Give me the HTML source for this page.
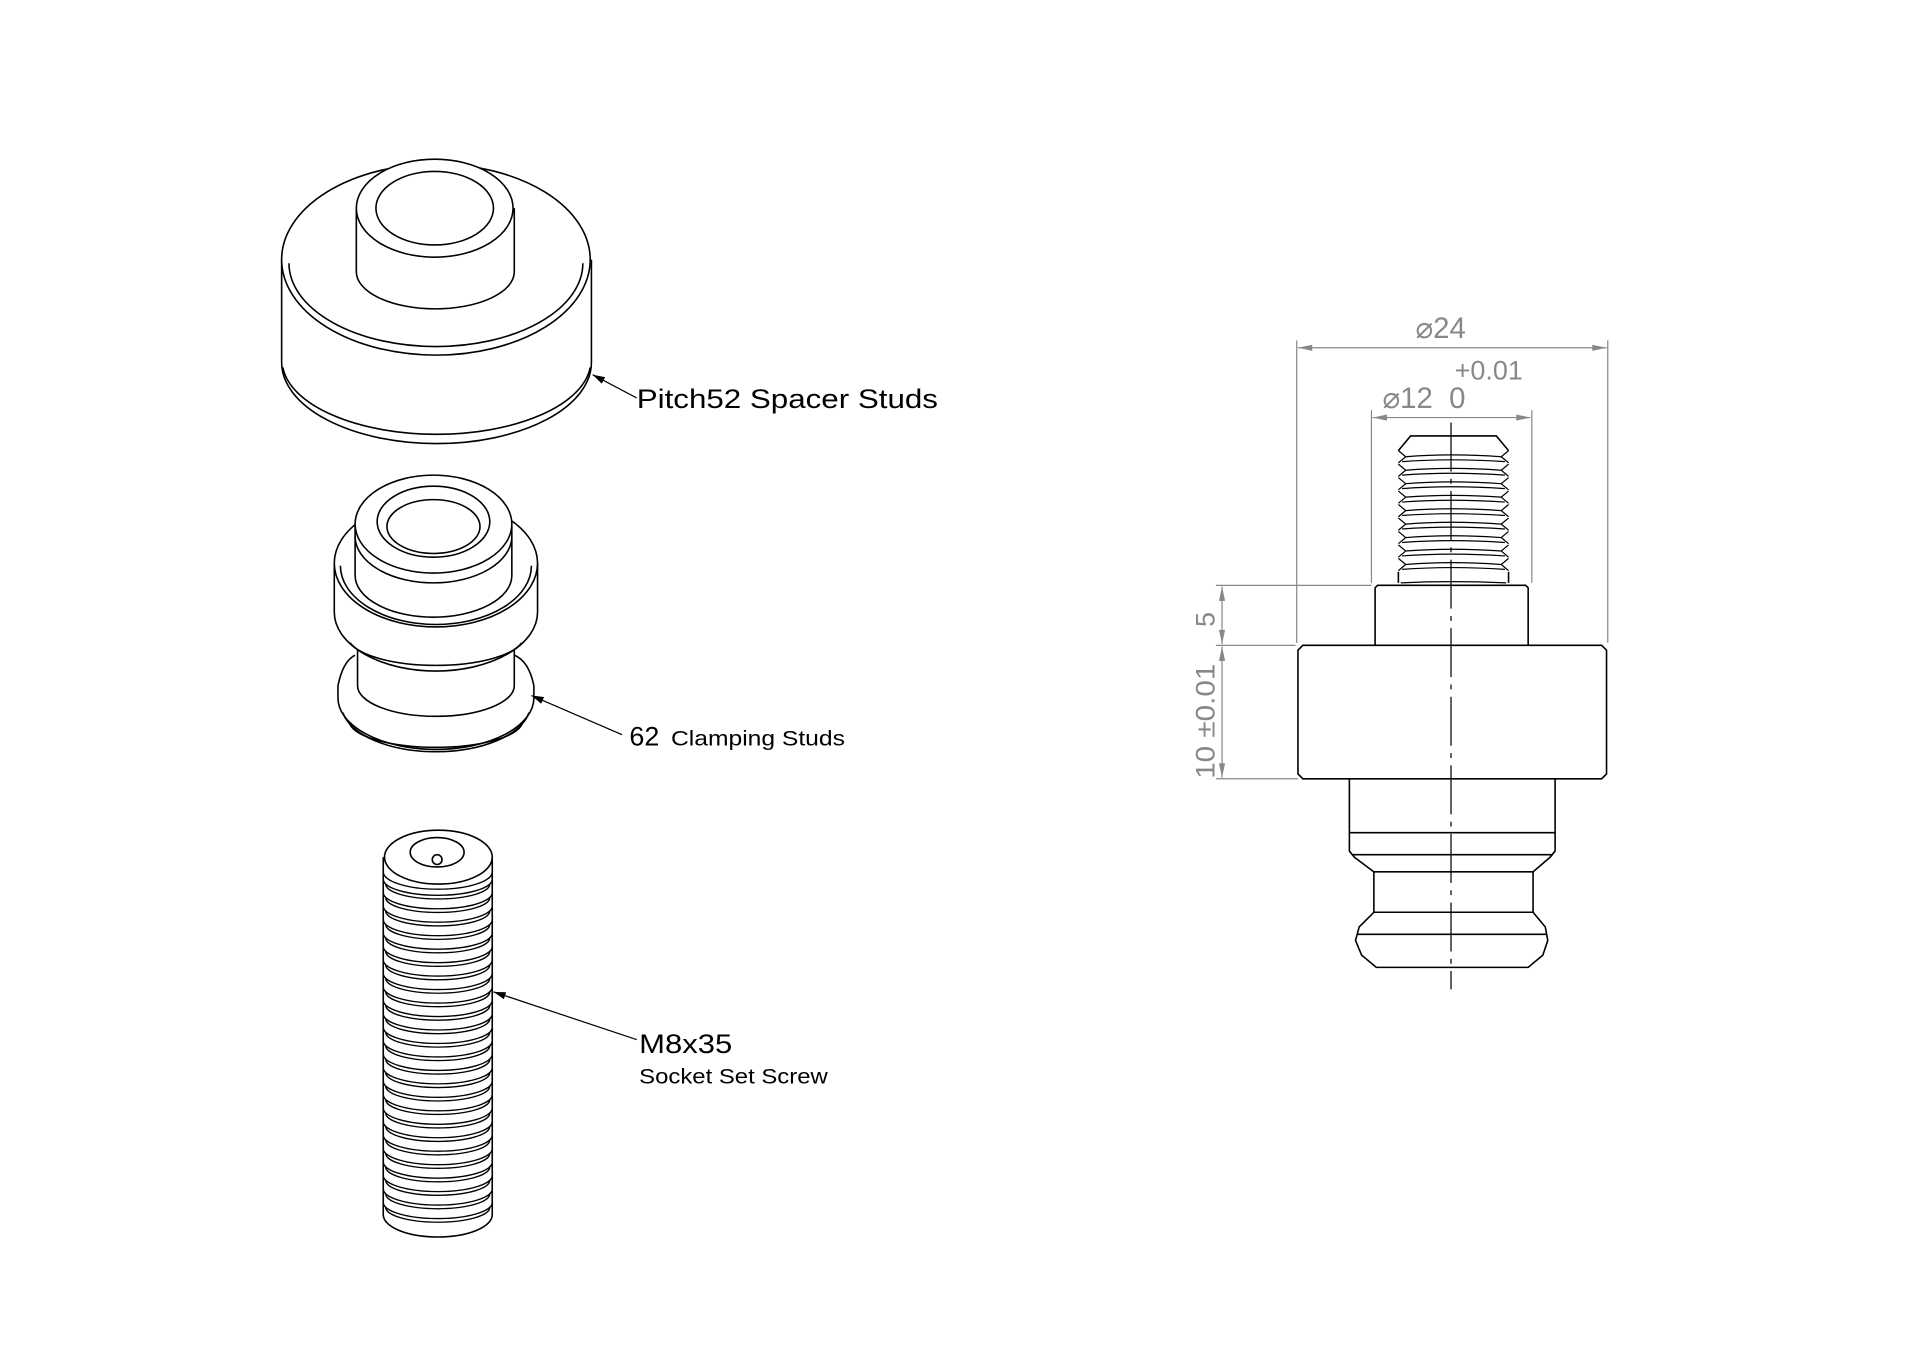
<!DOCTYPE html>
<html><head><meta charset="utf-8"><style>
html,body{margin:0;padding:0;background:#fff;}
svg{display:block}
text{font-family:"Liberation Sans",sans-serif;}
</style></head><body>
<svg width="1920" height="1358" viewBox="0 0 1568 1109" xmlns="http://www.w3.org/2000/svg">
<defs>
<marker id="ab" viewBox="0 0 10 6" refX="10" refY="3" markerWidth="10" markerHeight="6" orient="auto" markerUnits="userSpaceOnUse"><path d="M0,0 L10,3 L0,6 z" fill="#000"/></marker>
<marker id="ag" viewBox="0 0 14 6" refX="14" refY="3" markerWidth="14" markerHeight="5" orient="auto" markerUnits="userSpaceOnUse"><path d="M0,0 L14,3 L0,6 z" fill="#888"/></marker>
</defs>
<rect width="1568" height="1109" fill="#fff"/>
<g fill="none" stroke="#000" stroke-width="1.3">
<!-- spacer stud -->
<path d="M230,212 L230,296 A126,66 0 0 0 483,296 L483,212"/>
<path d="M231,300 A126,60 0 0 0 482,300"/>
<ellipse cx="356" cy="212" rx="126" ry="78" fill="#fff"/>
<path d="M236,215 A120,68 0 0 0 476,215"/>
<path d="M291,170 L291,222 A64,30 0 0 0 420,222 L420,170 Z" fill="#fff" stroke="none"/>
<path d="M291,170 L291,222 A64,30 0 0 0 420,222 L420,170"/>
<ellipse cx="355" cy="170" rx="64" ry="40" fill="#fff"/>
<ellipse cx="355" cy="170" rx="48" ry="30"/>
<!-- clamping stud lower -->
<path d="M290,535 Q280,540 276,560 L276,570 A80,42 0 0 0 436,570 L436,560 Q432,540 420,535"/>
<path d="M280,582 A77,38 0 0 0 432,582"/>
<path d="M286,592 A71,22 0 0 0 426,592"/>
<path d="M292,520 L292,560 A64,25 0 0 0 420,560 L420,520 Z" fill="#fff"/>
<path d="M273,460 L273,500 A83,48 0 0 0 439,500 L439,460 Z" fill="#fff"/>
<path d="M286,525 A72,24 0 0 0 426,525"/>
<ellipse cx="356" cy="460" rx="83" ry="52" fill="#fff"/>
<path d="M278,462 A78,48 0 0 0 434,462"/>
<path d="M290,430 L290,470 A64,34 0 0 0 418,470 L418,430 Z" fill="#fff"/>
<path d="M290,438 A64,38 0 0 0 418,438"/>
<ellipse cx="354" cy="428" rx="64" ry="40" fill="#fff"/>
<ellipse cx="354" cy="426" rx="46" ry="29"/>
<ellipse cx="354" cy="430" rx="38" ry="22"/>
<!-- screw -->
<path d="M313,700 L313,992 A44,18 0 0 0 402,992 L402,700"/>
<ellipse cx="358" cy="700" rx="44" ry="22"/>
<ellipse cx="357" cy="696" rx="22" ry="12"/>
<circle cx="357" cy="702" r="4"/>
</g>
<g fill="none" stroke="#000" stroke-width="1.1">
<path d="M313,712 A44,14 0 0 0 402,712
M313,718 A44,13 0 0 0 402,718 M315,722 A42,12 0 0 0 400,722
M313,729 A44,13 0 0 0 402,729 M315,733 A42,12 0 0 0 400,733
M313,740 A44,13 0 0 0 402,740 M315,744 A42,12 0 0 0 400,744
M313,751 A44,13 0 0 0 402,751 M315,755 A42,12 0 0 0 400,755
M313,762 A44,13 0 0 0 402,762 M315,766 A42,12 0 0 0 400,766
M313,773 A44,13 0 0 0 402,773 M315,777 A42,12 0 0 0 400,777
M313,784 A44,13 0 0 0 402,784 M315,788 A42,12 0 0 0 400,788
M313,795 A44,13 0 0 0 402,795 M315,799 A42,12 0 0 0 400,799
M313,806 A44,13 0 0 0 402,806 M315,810 A42,12 0 0 0 400,810
M313,817 A44,13 0 0 0 402,817 M315,821 A42,12 0 0 0 400,821
M313,828 A44,13 0 0 0 402,828 M315,832 A42,12 0 0 0 400,832
M313,839 A44,13 0 0 0 402,839 M315,843 A42,12 0 0 0 400,843
M313,850 A44,13 0 0 0 402,850 M315,854 A42,12 0 0 0 400,854
M313,861 A44,13 0 0 0 402,861 M315,865 A42,12 0 0 0 400,865
M313,872 A44,13 0 0 0 402,872 M315,876 A42,12 0 0 0 400,876
M313,883 A44,13 0 0 0 402,883 M315,887 A42,12 0 0 0 400,887
M313,894 A44,13 0 0 0 402,894 M315,898 A42,12 0 0 0 400,898
M313,905 A44,13 0 0 0 402,905 M315,909 A42,12 0 0 0 400,909
M313,916 A44,13 0 0 0 402,916 M315,920 A42,12 0 0 0 400,920
M313,927 A44,13 0 0 0 402,927 M315,931 A42,12 0 0 0 400,931
M313,938 A44,13 0 0 0 402,938 M315,942 A42,12 0 0 0 400,942
M313,949 A44,13 0 0 0 402,949 M315,953 A42,12 0 0 0 400,953
M313,960 A44,13 0 0 0 402,960 M315,964 A42,12 0 0 0 400,964
M313,971 A44,13 0 0 0 402,971 M315,975 A42,12 0 0 0 400,975
M313,982 A44,13 0 0 0 402,982 M315,986 A42,12 0 0 0 400,986"/>
</g>
<!-- leaders -->
<g stroke="#000" stroke-width="1" fill="none">
<line x1="520" y1="325" x2="484" y2="306" marker-end="url(#ab)"/>
<line x1="508" y1="600" x2="434" y2="568" marker-end="url(#ab)"/>
<line x1="520" y1="849" x2="403" y2="810" marker-end="url(#ab)"/>
</g>
<text x="520" y="333" font-size="22" textLength="246" lengthAdjust="spacingAndGlyphs">Pitch52 Spacer Studs</text>
<text x="514" y="609" font-size="22">62</text>
<text x="548" y="609" font-size="17" textLength="142" lengthAdjust="spacingAndGlyphs">Clamping Studs</text>
<text x="522" y="860" font-size="22" textLength="76" lengthAdjust="spacingAndGlyphs">M8x35</text>
<text x="522" y="885" font-size="17" textLength="154" lengthAdjust="spacingAndGlyphs">Socket Set Screw</text>
<!-- right drawing -->
<g fill="none" stroke="#000" stroke-width="1.3">
<path d="M1064,527 L1308,527 L1312,531 L1312,632 L1308,636 L1064,636 L1060,632 L1060,531 Z"/>
<path d="M1123,527 L1123,480 L1125,478 L1246,478 L1248,480 L1248,527"/>
<path d="M1102,636 L1102,680 L1270,680 L1270,636"/>
<path d="M1102,680 L1102,695 L1106,700 L1122,712 L1252,712 L1266,700 L1270,695 L1270,680"/>
<line x1="1104" y1="698" x2="1268" y2="698"/>
<path d="M1122,712 L1122,745 L1252,745 L1252,712"/>
<path d="M1122,745 L1110,757 L1107,768 L1112,780 L1124,790 L1248,790 L1260,780 L1264,768 L1262,757 L1252,745"/>
<line x1="1108" y1="763" x2="1263" y2="763"/>
<path d="M1142,368 L1152,356 L1222,356 L1232,368"/>
<path d="M1142,467 L1142,476 M1232,467 L1232,476"/>
</g>
<g fill="none" stroke="#000" stroke-width="1">
<path d="M1142,368 L1148,373 L1142,378 M1232,368 L1226,373 L1232,378 M1148,373 Q1185,370 1226,373 M1145,377 Q1185,374 1229,377
M1142,379 L1148,384 L1142,389 M1232,379 L1226,384 L1232,389 M1148,384 Q1185,381 1226,384 M1145,388 Q1185,385 1229,388
M1142,390 L1148,395 L1142,400 M1232,390 L1226,395 L1232,400 M1148,395 Q1185,392 1226,395 M1145,399 Q1185,396 1229,399
M1142,401 L1148,406 L1142,411 M1232,401 L1226,406 L1232,411 M1148,406 Q1185,403 1226,406 M1145,410 Q1185,407 1229,410
M1142,412 L1148,417 L1142,422 M1232,412 L1226,417 L1232,422 M1148,417 Q1185,414 1226,417 M1145,421 Q1185,418 1229,421
M1142,423 L1148,428 L1142,433 M1232,423 L1226,428 L1232,433 M1148,428 Q1185,425 1226,428 M1145,432 Q1185,429 1229,432
M1142,434 L1148,439 L1142,444 M1232,434 L1226,439 L1232,444 M1148,439 Q1185,436 1226,439 M1145,443 Q1185,440 1229,443
M1142,445 L1148,450 L1142,455 M1232,445 L1226,450 L1232,455 M1148,450 Q1185,447 1226,450 M1145,454 Q1185,451 1229,454
M1142,456 L1148,461 L1142,466 M1232,456 L1226,461 L1232,466 M1148,461 Q1185,458 1226,461 M1145,465 Q1185,462 1229,465
M1144,476 Q1185,474 1230,476"/>
</g>
<line x1="1185" y1="345" x2="1185" y2="808" stroke="#000" stroke-width="1" stroke-dasharray="40,6,4,6"/>
<g stroke="#888" stroke-width="1" fill="none">
<line x1="1059" y1="278" x2="1059" y2="525"/>
<line x1="1313" y1="278" x2="1313" y2="525"/>
<line x1="1120" y1="335" x2="1120" y2="476"/>
<line x1="1251" y1="335" x2="1251" y2="476"/>
<line x1="1185" y1="284" x2="1060" y2="284" marker-end="url(#ag)"/>
<line x1="1185" y1="284" x2="1312" y2="284" marker-end="url(#ag)"/>
<line x1="1185" y1="341" x2="1121" y2="341" marker-end="url(#ag)"/>
<line x1="1185" y1="341" x2="1250" y2="341" marker-end="url(#ag)"/>
<line x1="993" y1="478" x2="1120" y2="478"/>
<line x1="993" y1="527" x2="1058" y2="527"/>
<line x1="993" y1="636" x2="1060" y2="636"/>
<line x1="998" y1="502" x2="998" y2="479" marker-end="url(#ag)"/>
<line x1="998" y1="502" x2="998" y2="526" marker-end="url(#ag)"/>
<line x1="998" y1="580" x2="998" y2="528" marker-end="url(#ag)"/>
<line x1="998" y1="580" x2="998" y2="635" marker-end="url(#ag)"/>
</g>
<g fill="#888" font-size="22">
<text x="1156" y="276" font-size="24">⌀24</text>
<text x="1188" y="310">+0.01</text>
<text x="1129" y="333" font-size="24">⌀12&#160;&#160;0</text>
<text transform="translate(992,512) rotate(-90)">5</text>
<text transform="translate(992,636) rotate(-90)" textLength="94" lengthAdjust="spacingAndGlyphs">10 ±0.01</text>
</g>
</svg>
</body></html>
